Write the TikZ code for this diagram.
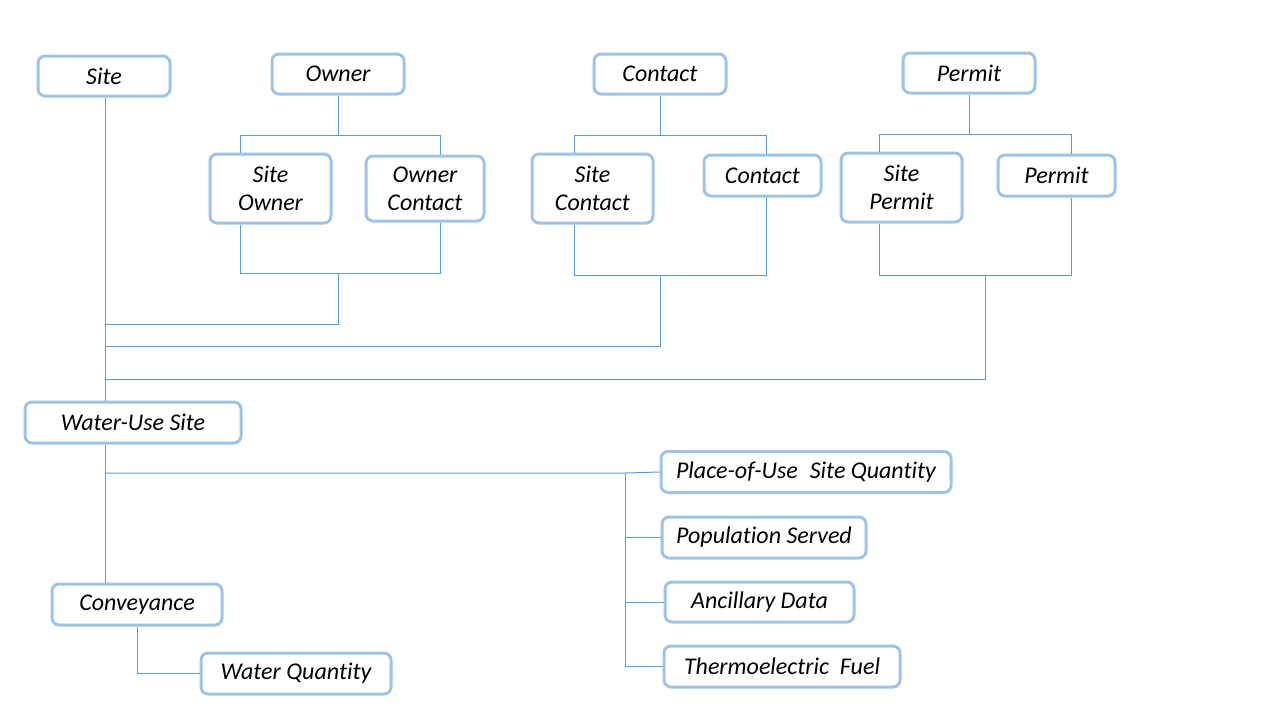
\documentclass[tikz,border=0pt]{standalone}
\usepackage{fontspec}
\setmainfont[Ligatures=NoCommon]{Carlito}
\definecolor{boxc}{HTML}{9DC3E6}
\definecolor{linec}{HTML}{5B9BD5}
\tikzset{
  box/.style={draw=boxc, line width=1.5pt, rounded corners=3.5pt, fill=white,
    align=center, inner sep=0pt, font=\fontsize{12}{14}\selectfont\itshape},
  conn/.style={draw=linec, line width=0.5pt}
}
\begin{document}
\begin{tikzpicture}[x=0.5pt,y=-0.5pt]
\useasboundingbox (0,0) rectangle (1280,720);
% boxes
\node[box, minimum width=66pt, minimum height=20pt] (site) at (104,76) {Site};
\node[box, minimum width=66pt, minimum height=20pt] (owner) at (338,74) {Owner};
\node[box, minimum width=60.5pt, minimum height=34.5pt] (siteowner) at (270.5,188.5) {Site\\Owner};
\node[box, minimum width=59pt, minimum height=32.5pt] (ownercontact) at (425,188.5) {Owner\\Contact};
\node[box, minimum width=66pt, minimum height=20pt] (contact) at (660,74) {Contact};
\node[box, minimum width=60.5pt, minimum height=34.5pt] (sitecontact) at (592.5,188.5) {Site\\Contact};
\node[box, minimum width=58.5pt, minimum height=20.5pt] (contact2) at (762.5,175.5) {Contact};
\node[box, minimum width=66pt, minimum height=20pt] (permit) at (969,73) {Permit};
\node[box, minimum width=60.5pt, minimum height=34.5pt] (sitepermit) at (901.5,187.5) {Site\\Permit};
\node[box, minimum width=58.5pt, minimum height=20.5pt] (permit2) at (1056.5,175.5) {Permit};
\node[box, minimum width=108pt, minimum height=20.5pt] (wus) at (133,422.5) {Water-Use Site};
\node[box, minimum width=85pt, minimum height=20.5pt] (conv) at (137,604.5) {Conveyance};
\node[box, minimum width=95pt, minimum height=20.5pt] (wq) at (296,673.5) {Water Quantity};
\node[box, minimum width=145pt, minimum height=20.5pt] (place) at (806,472) {Place-of-Use\hspace{0.5em}Site Quantity};
\node[box, minimum width=102pt, minimum height=20.5pt] (pop) at (764,537.5) {Population Served};
\node[box, minimum width=94.5pt, minimum height=20pt] (anc) at (759.5,602) {Ancillary Data};
\node[box, minimum width=118pt, minimum height=20.5pt] (thermo) at (782,666.5) {Thermoelectric\hspace{0.45em}Fuel};
% coordinates
\coordinate (trunk) at (105,0);
\coordinate (oT) at (338,135);
\coordinate (oL) at (240,135);
\coordinate (oR) at (440,135);
\coordinate (obL) at (240,273);
\coordinate (obR) at (440,273);
\coordinate (obM) at (338,273);
\coordinate (oJ) at (338,324);
\coordinate (cT) at (660,135);
\coordinate (cL) at (574,135);
\coordinate (cR) at (766,135);
\coordinate (cbL) at (574,275);
\coordinate (cbR) at (766,275);
\coordinate (cbM) at (660,275);
\coordinate (cJ) at (660,346);
\coordinate (pT) at (969,134);
\coordinate (pL) at (879,134);
\coordinate (pR) at (1071,134);
\coordinate (pbL) at (879,275);
\coordinate (pbR) at (1071,275);
\coordinate (pbM) at (985,275);
\coordinate (pJ) at (985,379);
\coordinate (wJ) at (105,473);
\coordinate (bus) at (625,473);
% site trunk
\draw[conn] (trunk |- site.south) -- (trunk |- wus.north);
% owner
\draw[conn] (owner.south) -- (oT);
\draw[conn] (oL |- siteowner.north) -- (oL) -- (oR) -- (oR |- ownercontact.north);
\draw[conn] (obL |- siteowner.south) -- (obL) -- (obR) -- (obR |- ownercontact.south);
\draw[conn] (obM) -- (oJ) -- (trunk |- oJ);
% contact
\draw[conn] (contact.south) -- (cT);
\draw[conn] (cL |- sitecontact.north) -- (cL) -- (cR) -- (cR |- contact2.north);
\draw[conn] (cbL |- sitecontact.south) -- (cbL) -- (cbR) -- (cbR |- contact2.south);
\draw[conn] (cbM) -- (cJ) -- (trunk |- cJ);
% permit
\draw[conn] (permit.south) -- (pT);
\draw[conn] (pL |- sitepermit.north) -- (pL) -- (pR) -- (pR |- permit2.north);
\draw[conn] (pbL |- sitepermit.south) -- (pbL) -- (pbR) -- (pbR |- permit2.south);
\draw[conn] (pbM) -- (pJ) -- (trunk |- pJ);
% water-use site
\draw[conn] (trunk |- wus.south) -- (trunk |- conv.north);
\draw[conn] (wJ) -- (bus) -- (place.west);
\draw[conn] (bus) -- (bus |- thermo.west) -- (thermo.west);
\draw[conn] (bus |- pop.west) -- (pop.west);
\draw[conn] (bus |- anc.west) -- (anc.west);
% conveyance
\draw[conn] (conv.south) -- (conv.south |- wq.west) -- (wq.west);
\end{tikzpicture}
\end{document}
